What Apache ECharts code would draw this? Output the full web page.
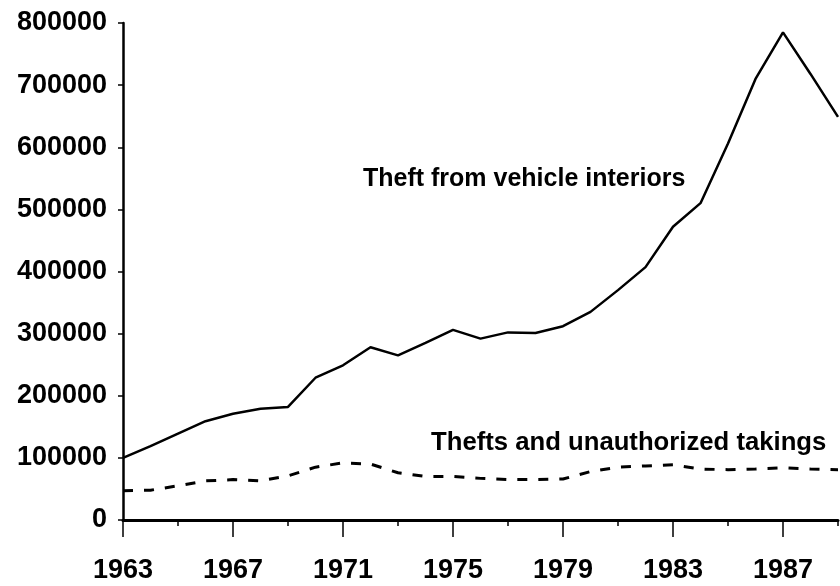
<!DOCTYPE html>
<html>
<head>
<meta charset="utf-8">
<script src="https://cdn.jsdelivr.net/npm/echarts@6/dist/echarts.min.js"></script>
<style>
html,body{margin:0;padding:0;background:#fff;}
#chart{width:840px;height:586px;}
</style>
</head>
<body>
<div id="chart"></div>
<script>
// Years (categories)
const years = ['1963','1964','1965','1966','1967','1968','1969','1970','1971','1972','1973','1974','1975','1976','1977','1978','1979','1980','1981','1982','1983','1984','1985','1986','1987','1988','1989'];
// Theft from vehicle interiors
const theftFromVehicle = [100000,119000,139000,159000,171000,179000,182000,229000,249000,278000,265000,285000,306000,292000,302000,301000,312000,335000,370000,407000,472000,510000,606000,710000,785000,718000,649000];
// Thefts and unauthorized takings
const theftsTakings = [47000,48000,55000,63000,65000,63000,71000,85000,92000,90000,76000,70000,70000,67000,65000,65000,66000,78000,85000,87000,89000,82000,81000,82000,84000,82000,81000];
// Y tick values
const yMin = 0, yMax = 800000, yStep = 100000;
const labelSeriesA = 'Theft from vehicle interiors';
const labelSeriesB = 'Thefts and unauthorized takings';

const font = 'Liberation Sans, Arial, sans-serif';
const chart = echarts.init(document.getElementById('chart'), null, {renderer:'canvas'});
chart.setOption({
  backgroundColor:'#fff',
  animation:false,
  grid:{left:123, right:2, top:23, bottom:66, containLabel:false},
  xAxis:[{
    type:'category', data:years, boundaryGap:false,
    axisLine:{show:true, lineStyle:{color:'#000', width:3}},
    axisTick:{show:true, interval:3, length:17, lineStyle:{color:'#000', width:1.5}},
    axisLabel:{show:true, interval:3, margin:37, color:'#000', fontSize:27, fontWeight:'bold', fontFamily:font},
    splitLine:{show:false}
  },{
    type:'category', data:years, boundaryGap:false, position:'bottom',
    axisLine:{show:false},
    axisTick:{show:true, interval:1, length:6, lineStyle:{color:'#000', width:1.5}},
    axisLabel:{show:false},
    splitLine:{show:false}
  }],
  yAxis:{
    type:'value', min:yMin, max:yMax, interval:yStep,
    axisLine:{show:true, lineStyle:{color:'#000', width:2.5}},
    axisTick:{show:true, length:5, lineStyle:{color:'#000', width:1.5}},
    axisLabel:{margin:16, color:'#000', fontSize:27, fontWeight:'bold', fontFamily:font, formatter:function(v){return String(v);}},
    splitLine:{show:false}
  },
  series:[{
    name:labelSeriesA, type:'line', data:theftFromVehicle, xAxisIndex:0,
    showSymbol:false, symbol:'none',
    lineStyle:{color:'#000', width:2.5}
  },{
    name:labelSeriesB, type:'line', data:theftsTakings, xAxisIndex:0,
    showSymbol:false, symbol:'none',
    lineStyle:{color:'#000', width:3, type:[10,11]}
  }],
  graphic:[
    {type:'text', left:363, top:167, style:{text:labelSeriesA, font:'bold 25px ' + font, fill:'#000'}},
    {type:'text', left:431, top:430, style:{text:labelSeriesB, font:'bold 25.7px ' + font, fill:'#000'}}
  ]
});
</script>
</body>
</html>
